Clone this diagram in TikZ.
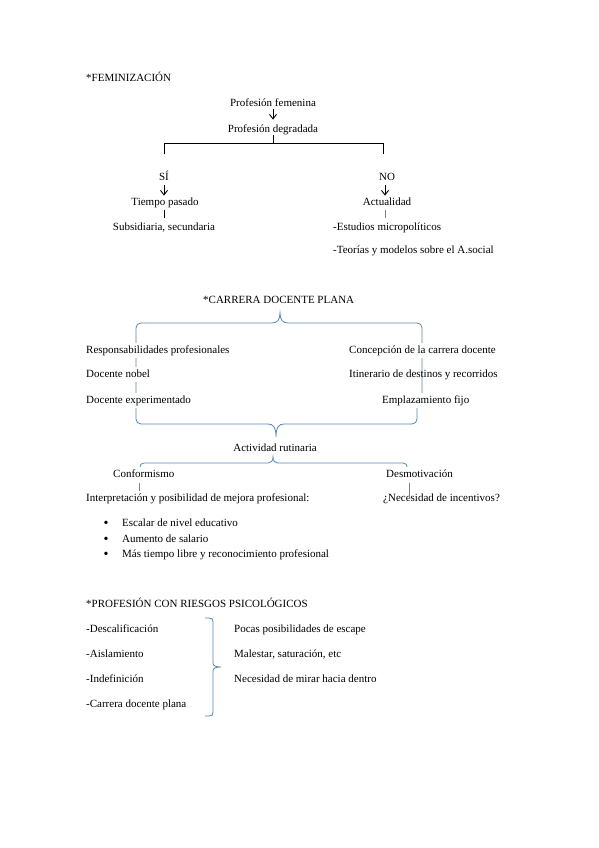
\documentclass[tikz,border=0pt]{standalone}
\usepackage{fontspec}
\setmainfont{Liberation Serif}
\usetikzlibrary{arrows.meta}
\definecolor{wblue}{RGB}{84,135,200}
\begin{document}
\begin{tikzpicture}[x=1pt,y=-1pt,
  txt/.style={font=\fontsize{11}{13}\selectfont, inner sep=0pt, text height=7.7pt, text depth=2.4pt},
  ftxt/.style={txt, fill=white, inner ysep=2.5pt, inner xsep=1pt},
  bul/.style={txt, font=\fontsize{14}{14}\selectfont},
  blk/.style={draw=black, line width=0.9pt},
  arr/.style={blk, -{Straight Barb[length=4.5pt,width=7pt,line width=0.9pt]}},
  bl/.style={draw=wblue, line width=0.8pt},
]
\useasboundingbox[fill=white] (0,0) rectangle (599,848);

% ---- braces of the middle section (drawn first, texts cover them)
\draw[bl] (136,338) -- (136,328) .. controls (136,325) and (138,323) .. (141,323)
  -- (272,323) .. controls (277,323) and (280,320) .. (280,313)
  .. controls (280,320) and (283,323) .. (288,323)
  -- (417,323) .. controls (420,323) and (422,325) .. (422,328) -- (422,396);
\draw[bl] (136,338) -- (136,419) .. controls (136,422) and (138,424) .. (141,424)
  -- (268,424) .. controls (273,424) and (276,427) .. (276,437)
  .. controls (276,427) and (279,424) .. (284,424)
  -- (412,424) .. controls (415,424) and (417,422) .. (417,419) -- (417,398);
\draw[bl] (140,470) -- (140,467) .. controls (140,465) and (141,463) .. (144,463)
  -- (268,463) .. controls (271,463) and (273,461) .. (273,457)
  .. controls (273,461) and (275,463) .. (278,463)
  -- (403,463) .. controls (406,463) and (407,465) .. (407,467) -- (407,470);
% ---- brace of the bottom section
\draw[bl] (205,618) -- (209,618) .. controls (212,618) and (213,619) .. (213,622)
  -- (213,663) .. controls (213,666) and (216,667) .. (221,667)
  .. controls (216,667) and (213,668) .. (213,671)
  -- (213,712) .. controls (213,715) and (212,716) .. (209,716) -- (205,716);

% ---- FEMINIZACION
\node[txt, anchor=base west] (fem) at (86,82) {*FEMINIZACIÓN};
\node[txt, anchor=base] (pf) at (273,106.5) {Profesión femenina};
\node[txt, anchor=base] (pd) at (273,132.5) {Profesión degradada};
\node[txt, anchor=base] (si) at (164,180.5) {SÍ};
\node[txt, anchor=base] (tp) at (165,205.5) {Tiempo pasado};
\node[txt, anchor=base] (sub) at (164,230.5) {Subsidiaria, secundaria};
\node[txt, anchor=base] (no) at (387,180.5) {NO};
\node[txt, anchor=base] (act) at (387,205.5) {Actualidad};
\node[txt, anchor=base west] (est) at (333,230.5) {-Estudios micropolíticos};
\node[txt, anchor=base west] (teo) at (333,253.5) {-Teorías y modelos sobre el A.social};

\coordinate (bl1) at (164,154);
\coordinate (br1) at (383,154);
\draw[arr, shorten <=0pt, shorten >=5pt] (pf.south) -- (pd.north);
\draw[blk] (pd.south) -- (pd.south |- 0,143);
\draw[blk] (bl1) -- (bl1 |- 0,143) -- (br1 |- 0,143) -- (br1);
\draw[arr, shorten <=2pt, shorten >=2pt] (si.south -| 164,0) -- (tp.north -| 164,0);
\draw[blk, shorten <=1.5pt, shorten >=4.5pt] (tp.south -| 164,0) -- (sub.north -| 164,0);
\draw[arr, shorten <=2pt, shorten >=2pt] (no.south -| 385,0) -- (act.north -| 385,0);
\draw[bl, shorten <=1.5pt, shorten >=4.5pt] (act.south -| 385,0) -- (est.north -| 385,0);

% ---- CARRERA DOCENTE PLANA
\node[txt, anchor=base west] (cdp) at (203,303.5) {*CARRERA DOCENTE PLANA};
\node[ftxt, anchor=base west] (rp) at (85,353.5) {Responsabilidades profesionales};
\node[ftxt, anchor=base west] (dn) at (85,377.5) {Docente nobel};
\node[ftxt, anchor=base west] (de) at (85,403) {Docente experimentado};
\node[ftxt, anchor=base west] (cc) at (348,353.5) {Concepción de la carrera docente};
\node[txt, anchor=base west] (it) at (349,377.5) {Itinerario de destinos y recorridos};
\node[ftxt, anchor=base west] (ef) at (381,403) {Emplazamiento fijo};
\node[txt, anchor=base] (ar) at (275,451.5) {Actividad rutinaria};
\node[ftxt, anchor=base west] (conf) at (112,477.5) {Conformismo};
\node[ftxt, anchor=base west] (desm) at (385,477.5) {Desmotivación};
\node[ftxt, anchor=base west] (interp) at (85,501.5) {Interpretación y posibilidad de mejora profesional:};
\node[txt, anchor=base west] (nec) at (383,501.5) {¿Necesidad de incentivos?};
\draw[bl] (conf.south -| 139,0) -- (interp.north -| 139,0);
\draw[bl, shorten >=-4pt] (desm.south -| 409,0) -- (nec.north -| 409,0);

\node[bul, anchor=base] (b1) at (106,527.5) {•};
\node[txt, anchor=base west] (l1) at (122,526.5) {Escalar de nivel educativo};
\node[bul, anchor=base] (b2) at (106,543.5) {•};
\node[txt, anchor=base west] (l2) at (122,542.5) {Aumento de salario};
\node[bul, anchor=base] (b3) at (106,558.5) {•};
\node[txt, anchor=base west] (l3) at (122,557.5) {Más tiempo libre y reconocimiento profesional};

% ---- PROFESION CON RIESGOS PSICOLOGICOS
\node[txt, anchor=base west] (prp) at (86,607.5) {*PROFESIÓN CON RIESGOS PSICOLÓGICOS};
\node[txt, anchor=base west] (r1) at (86,632.5) {-Descalificación};
\node[txt, anchor=base west] (r2) at (86,657.5) {-Aislamiento};
\node[txt, anchor=base west] (r3) at (86,682.5) {-Indefinición};
\node[txt, anchor=base west] (r4) at (86,707.5) {-Carrera docente plana};
\node[txt, anchor=base west] (s1) at (234,632.5) {Pocas posibilidades de escape};
\node[txt, anchor=base west] (s2) at (234,657.5) {Malestar, saturación, etc};
\node[txt, anchor=base west] (s3) at (234,682.5) {Necesidad de mirar hacia dentro};
\end{tikzpicture}
\end{document}
